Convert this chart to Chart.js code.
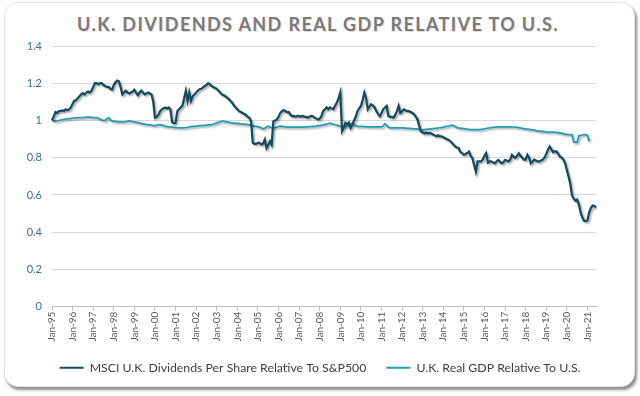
<!DOCTYPE html>
<html>
<head>
<meta charset="utf-8">
<script src="https://cdn.jsdelivr.net/npm/chart.js@4.4.0/dist/chart.umd.min.js"></script>
<style>
  html, body { margin: 0; padding: 0; background: #fff; }
  #wrap { position: relative; width: 640px; height: 396px; overflow: hidden; }
  #card {
    position: absolute; left: 4px; top: 2px; width: 629px; height: 383px;
    border: 1px solid #e2e2e2; border-radius: 14px; background: #fff;
    box-shadow: 2px 3px 3px rgba(0,0,0,0.45);
  }
  #title {
    position: absolute; left: 0; top: 13px; width: 636px; text-align: center;
    font: bold 18px Lato, "Open Sans", sans-serif; letter-spacing: 1.4px; color: #7a7a7a;
    text-shadow: 1px 1px 1px rgba(0,0,0,0.15);
  }
  #chart { position: absolute; left: 0; top: 0; }
</style>
</head>
<body>
<div id="wrap">
  <div id="card"></div>
  <div id="title">U.K. DIVIDENDS AND REAL GDP RELATIVE TO U.S.</div>
  <canvas id="chart" width="640" height="396"></canvas>
</div>
<script>
// 월별 데이터 (Jan-95 ~ Jun-21)
const years = ['95','96','97','98','99','00','01','02','03','04','05','06','07','08','09','10','11','12','13','14','15','16','17','18','19','20','21'];
const monthNames = ['Jan','Feb','Mar','Apr','May','Jun','Jul','Aug','Sep','Oct','Nov','Dec'];

const seriesNames = ['MSCI U.K. Dividends Per Share Relative To S&P500', 'U.K. Real GDP Relative To U.S.'];

const dividends = [
  1.00, 1.02, 1.045, 1.04, 1.05, 1.05, 1.055, 1.05, 1.06, 1.055, 1.06, 1.07,     // 95
  1.09, 1.105, 1.11, 1.12, 1.13, 1.14, 1.147, 1.14, 1.15, 1.155, 1.15, 1.16,     // 96
  1.18, 1.20, 1.20, 1.195, 1.20, 1.20, 1.19, 1.185, 1.18, 1.18, 1.17, 1.165,     // 97
  1.19, 1.205, 1.214, 1.21, 1.178, 1.14, 1.15, 1.16, 1.15, 1.145, 1.15, 1.155,   // 98
  1.165, 1.15, 1.136, 1.15, 1.16, 1.15, 1.14, 1.145, 1.15, 1.145, 1.14, 1.10,    // 99
  1.015, 1.02, 1.03, 1.05, 1.06, 1.065, 1.07, 1.065, 1.07, 1.06, 0.99, 0.985,    // 00
  0.987, 1.05, 1.06, 1.07, 1.08, 1.12, 1.16, 1.105, 1.15, 1.105, 1.13, 1.14,     // 01
  1.15, 1.16, 1.168, 1.17, 1.178, 1.185, 1.19, 1.20, 1.195, 1.185, 1.18, 1.175,  // 02
  1.17, 1.16, 1.15, 1.14, 1.136, 1.13, 1.123, 1.115, 1.105, 1.096, 1.08, 1.07,   // 03
  1.06, 1.05, 1.045, 1.04, 1.035, 1.03, 1.02, 1.015, 0.996, 0.88, 0.875, 0.875,  // 04
  0.88, 0.88, 0.87, 0.875, 0.897, 0.852, 0.87, 0.888, 0.87, 0.996, 1.00, 1.005,  // 05
  1.02, 1.04, 1.05, 1.056, 1.05, 1.045, 1.045, 1.03, 1.023, 1.025, 1.02, 1.025,  // 06
  1.023, 1.02, 1.025, 1.02, 1.02, 1.015, 1.02, 1.025, 1.023, 1.015, 1.01, 1.005, // 07
  1.01, 1.023, 1.05, 1.06, 1.07, 1.06, 1.07, 1.065, 1.06, 1.08, 1.096, 1.12,     // 08
  1.15, 0.942, 0.96, 0.987, 0.98, 0.99, 0.96, 0.98, 1.00, 1.02, 1.05, 1.065,     // 09
  1.078, 1.11, 1.15, 1.12, 1.06, 1.075, 1.087, 1.08, 1.07, 1.05, 1.035, 1.023,   // 10
  1.04, 1.06, 1.07, 1.078, 1.023, 1.02, 1.02, 1.015, 1.03, 1.05, 1.078, 1.04,    // 11
  1.05, 1.06, 1.055, 1.05, 1.05, 1.045, 1.04, 1.033, 1.02, 1.005, 0.97, 0.942,   // 12
  0.935, 0.93, 0.935, 0.93, 0.933, 0.93, 0.925, 0.92, 0.915, 0.92, 0.915, 0.915, // 13
  0.91, 0.905, 0.90, 0.897, 0.89, 0.88, 0.87, 0.86, 0.855, 0.852, 0.83, 0.825,   // 14
  0.815, 0.82, 0.825, 0.833, 0.81, 0.797, 0.76, 0.725, 0.78, 0.78, 0.78, 0.79,   // 15
  0.81, 0.824, 0.774, 0.78, 0.78, 0.775, 0.77, 0.78, 0.788, 0.78, 0.77, 0.775,   // 16
  0.788, 0.785, 0.78, 0.79, 0.815, 0.805, 0.80, 0.81, 0.824, 0.81, 0.80, 0.79,   // 17
  0.79, 0.815, 0.80, 0.77, 0.78, 0.79, 0.785, 0.78, 0.78, 0.785, 0.79, 0.80,     // 18
  0.82, 0.842, 0.86, 0.845, 0.83, 0.835, 0.833, 0.82, 0.806, 0.80, 0.79, 0.77,   // 19
  0.734, 0.70, 0.66, 0.598, 0.58, 0.57, 0.575, 0.55, 0.507, 0.48, 0.462, 0.46,   // 20
  0.462, 0.507, 0.53, 0.543, 0.54, 0.534                                         // 21
];

const gdp = [
  1.00, 0.998, 0.997, 0.998, 1.00, 1.002, 1.004, 1.006, 1.008, 1.009, 1.01, 1.011,        // 95
  1.012, 1.013, 1.014, 1.015, 1.015, 1.016, 1.016, 1.017, 1.018, 1.018, 1.018, 1.017,     // 96
  1.016, 1.015, 1.015, 1.012, 1.008, 1.002, 1.00, 1.001, 1.008, 1.015, 1.005, 0.996,      // 97
  0.996, 0.995, 0.994, 0.993, 0.992, 0.991, 0.992, 0.994, 0.996, 0.998, 0.996, 0.994,     // 98
  0.992, 0.99, 0.99, 0.987, 0.984, 0.982, 0.98, 0.978, 0.978, 0.976, 0.975, 0.973,        // 99
  0.973, 0.975, 0.977, 0.978, 0.975, 0.972, 0.97, 0.967, 0.966, 0.965, 0.964, 0.963,      // 00
  0.962, 0.961, 0.96, 0.96, 0.96, 0.961, 0.962, 0.963, 0.965, 0.967, 0.968, 0.969,        // 01
  0.97, 0.971, 0.972, 0.973, 0.973, 0.974, 0.975, 0.976, 0.977, 0.978, 0.98, 0.983,       // 02
  0.987, 0.99, 0.993, 0.996, 0.996, 0.994, 0.992, 0.99, 0.988, 0.987, 0.986, 0.985,       // 03
  0.984, 0.983, 0.982, 0.981, 0.98, 0.979, 0.978, 0.976, 0.974, 0.972, 0.97, 0.969,       // 04
  0.967, 0.965, 0.96, 0.955, 0.958, 0.965, 0.969, 0.965, 0.962, 0.96, 0.962, 0.965,       // 05
  0.967, 0.969, 0.968, 0.967, 0.966, 0.965, 0.965, 0.965, 0.965, 0.965, 0.965, 0.965,     // 06
  0.965, 0.965, 0.965, 0.965, 0.966, 0.966, 0.967, 0.967, 0.968, 0.969, 0.97, 0.972,      // 07
  0.973, 0.975, 0.976, 0.978, 0.98, 0.984, 0.986, 0.984, 0.98, 0.977, 0.975, 0.972,       // 08
  0.969, 0.968, 0.968, 0.969, 0.97, 0.971, 0.975, 0.984, 0.978, 0.972, 0.969, 0.968,      // 09
  0.968, 0.968, 0.967, 0.967, 0.966, 0.966, 0.966, 0.966, 0.966, 0.966, 0.966, 0.966,     // 10
  0.966, 0.97, 0.982, 0.975, 0.963, 0.96, 0.96, 0.96, 0.96, 0.96, 0.96, 0.96,             // 11
  0.96, 0.96, 0.959, 0.958, 0.957, 0.957, 0.956, 0.955, 0.955, 0.955, 0.952, 0.95,        // 12
  0.95, 0.951, 0.952, 0.953, 0.954, 0.955, 0.956, 0.957, 0.958, 0.96, 0.961, 0.962,       // 13
  0.964, 0.966, 0.968, 0.97, 0.973, 0.975, 0.973, 0.968, 0.962, 0.96, 0.958, 0.957,       // 14
  0.956, 0.955, 0.953, 0.952, 0.951, 0.951, 0.951, 0.951, 0.951, 0.951, 0.952, 0.953,     // 15
  0.955, 0.957, 0.959, 0.96, 0.962, 0.963, 0.964, 0.965, 0.966, 0.966, 0.966, 0.966,      // 16
  0.966, 0.966, 0.966, 0.966, 0.966, 0.965, 0.964, 0.963, 0.962, 0.96, 0.958, 0.956,      // 17
  0.955, 0.953, 0.952, 0.951, 0.95, 0.948, 0.946, 0.944, 0.943, 0.942, 0.941, 0.94,       // 18
  0.939, 0.938, 0.937, 0.937, 0.937, 0.937, 0.936, 0.935, 0.933, 0.931, 0.929, 0.927,     // 19
  0.925, 0.924, 0.924, 0.924, 0.884, 0.884, 0.884, 0.918, 0.92, 0.922, 0.924, 0.924,      // 20
  0.92, 0.888                                                                             // 21
];

const yTicks = [0, 0.2, 0.4, 0.6, 0.8, 1, 1.2, 1.4];

// 카테고리 라벨 만들기 (Jan-95 ... Jun-21)
const categories = [];
years.forEach(yy => monthNames.forEach(mm => categories.push(mm + '-' + yy)));
categories.length = dividends.length;

const DARK = '#154b5f';
const TEAL = '#1f9db1';

// 엑셀 느낌의 선 그림자
const lineShadow = {
  id: 'lineShadow',
  beforeDatasetsDraw(chart) {
    const ctx = chart.ctx;
    ctx.save();
    ctx.shadowColor = 'rgba(0,0,0,0.35)';
    ctx.shadowBlur = 2;
    ctx.shadowOffsetX = 1.5;
    ctx.shadowOffsetY = 1.5;
  },
  afterDatasetsDraw(chart) {
    chart.ctx.restore();
  }
};

// 범례를 카드 가운데로 옮기기
const legendShift = {
  id: 'legendShift',
  afterLayout(chart) {
    const lg = chart.legend;
    if (!lg) return;
    lg.left += 17;
    lg.right += 17;
  }
};

new Chart(document.getElementById('chart').getContext('2d'), {
  type: 'line',
  data: {
    labels: categories,
    datasets: [
      {
        label: seriesNames[0],
        data: dividends,
        borderColor: DARK,
        backgroundColor: DARK,
        borderWidth: 2.25,
        pointRadius: 0,
        tension: 0
      },
      {
        label: seriesNames[1],
        data: gdp,
        borderColor: TEAL,
        backgroundColor: TEAL,
        borderWidth: 1.75,
        pointRadius: 0,
        tension: 0
      }
    ]
  },
  options: {
    responsive: false,
    animation: false,
    layout: { padding: { top: 46, left: 10, right: 44, bottom: 12 } },
    scales: {
      x: {
        grid: { display: true, drawOnChartArea: false, drawTicks: true, tickLength: 4, color: '#bfbfbf' },
        border: { color: '#bfbfbf' },
        ticks: {
          autoSkip: false,
          minRotation: 90,
          maxRotation: 90,
          padding: 1,
          color: '#595959',
          font: { family: 'Lato', size: 10 },
          callback: function (value, index) {
            return index % 12 === 0 ? this.getLabelForValue(value) : null;
          }
        },
        afterFit: scale => { scale.height = 35; }
      },
      y: {
        min: 0,
        max: 1.4,
        afterBuildTicks: scale => { scale.ticks = yTicks.map(v => ({ value: v })); },
        grid: { color: '#d9d9d9', drawTicks: false },
        border: { display: false },
        ticks: {
          padding: 10,
          color: '#3b6e8f',
          font: { family: 'Lato', size: 11 },
          callback: v => String(+v.toFixed(1))
        },
        afterFit: scale => { scale.width = 42; }
      }
    },
    plugins: {
      legend: {
        position: 'bottom',
        labels: {
          boxWidth: 24,
          boxHeight: 2,
          padding: 20,
          color: '#404040',
          font: { family: 'Lato', size: 12.3 },
          generateLabels: chart => chart.data.datasets.map((ds, i) => ({
            text: ds.label,
            fillStyle: ds.borderColor,
            strokeStyle: ds.borderColor,
            lineWidth: 0,
            fontColor: '#404040',
            hidden: false,
            datasetIndex: i
          }))
        }
      },
      tooltip: { enabled: false }
    }
  },
  plugins: [lineShadow, legendShift]
});
</script>
</body>
</html>
